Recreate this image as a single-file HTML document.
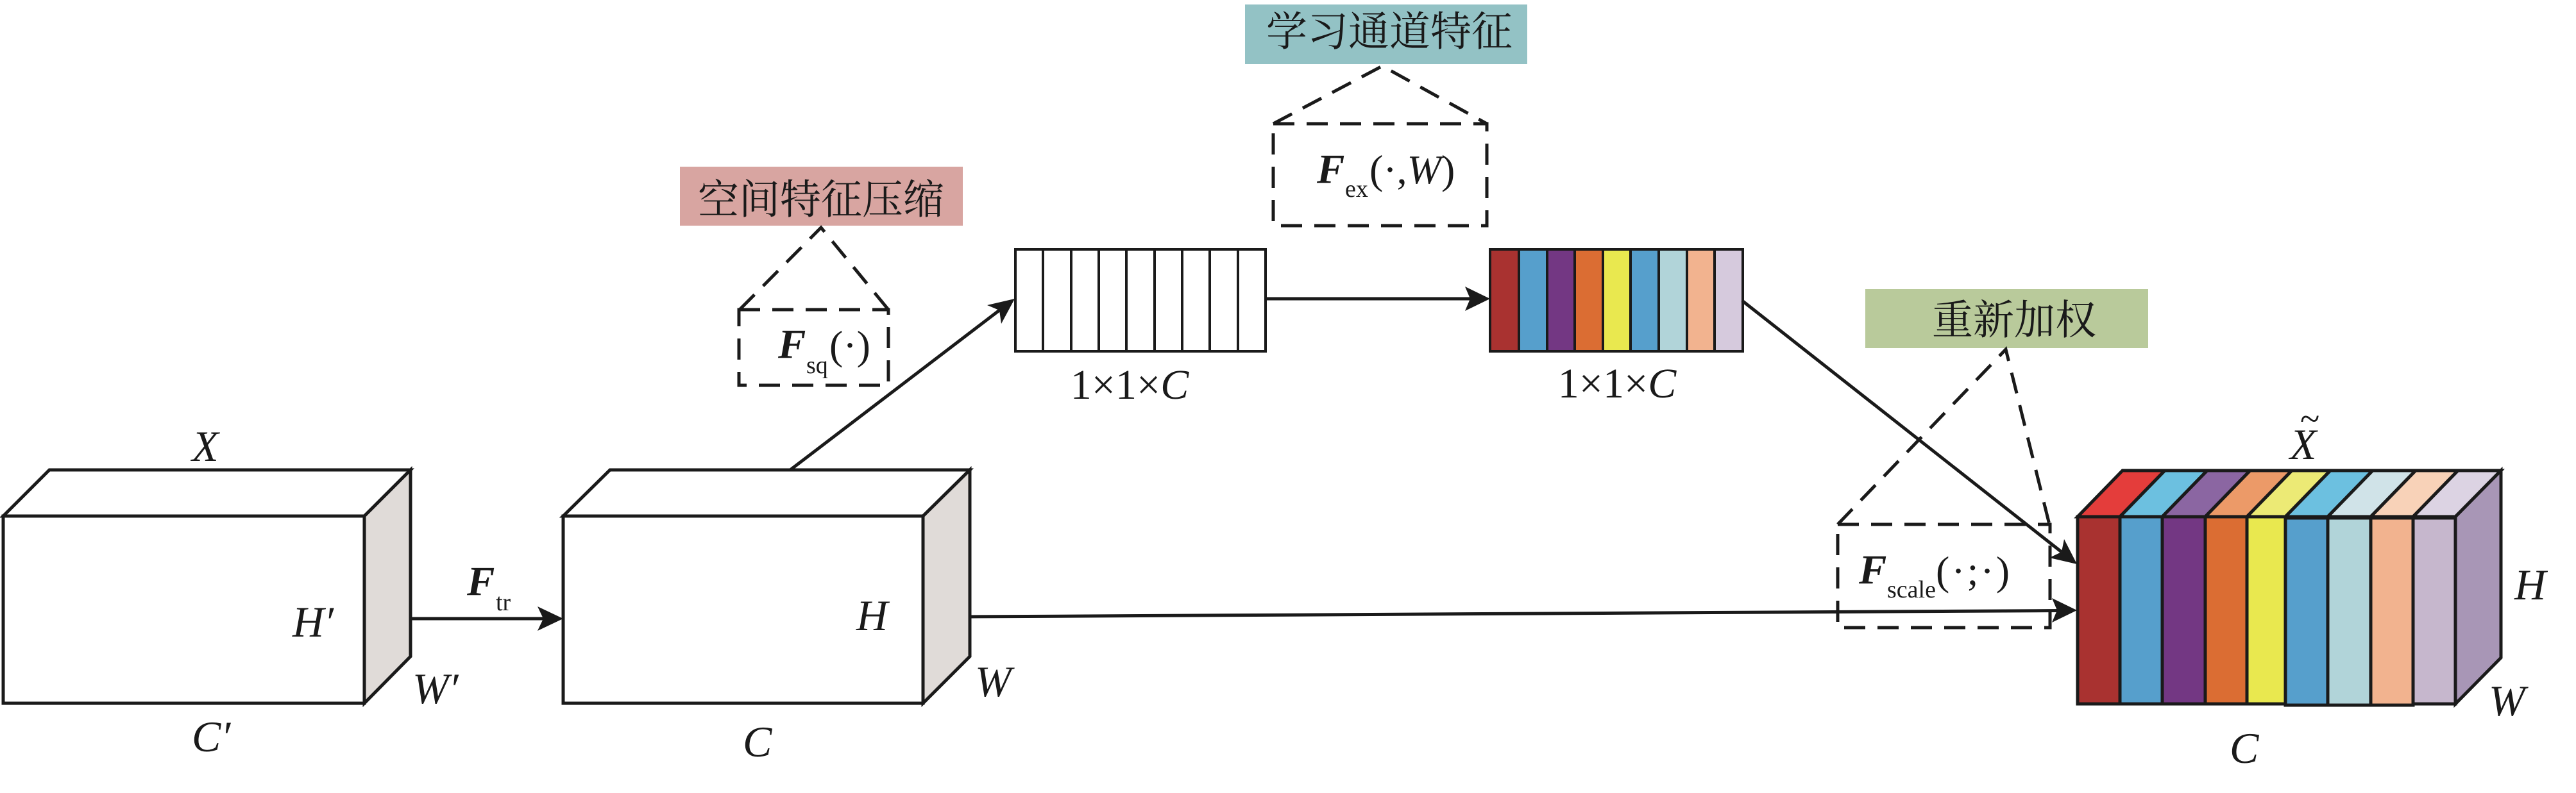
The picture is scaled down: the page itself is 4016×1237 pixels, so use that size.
<!DOCTYPE html>
<html>
<head>
<meta charset="utf-8">
<style>
html,body{margin:0;padding:0;background:#fff;}
svg{display:block;}
</style>
</head>
<body>
<svg width="4016" height="1237" viewBox="0 0 4016 1237" xmlns="http://www.w3.org/2000/svg">
<rect x="0" y="0" width="4016" height="1237" fill="#fff"/>

<!-- Box 1 -->
<g stroke="#1a1a1a" stroke-width="5" stroke-linejoin="miter">
  <polygon points="5,805 77,733 640,733 568,805" fill="#fff"/>
  <polygon points="568,805 640,733 640,1024 568,1097" fill="#e0dbd8"/>
  <rect x="5" y="805" width="563" height="292" fill="#fff"/>
</g>

<!-- Box 2 -->
<g stroke="#1a1a1a" stroke-width="5">
  <polygon points="878,805 951,733 1512,733 1439,805" fill="#fff"/>
  <polygon points="1439,805 1512,733 1512,1024 1439,1097" fill="#e0dbd8"/>
  <rect x="878" y="805" width="561" height="292" fill="#fff"/>
</g>

<!-- F_tr arrow -->
<line x1="640" y1="965" x2="848" y2="965" stroke="#1a1a1a" stroke-width="5"/>
<polygon points="878,965 838,946 847,965 838,984" fill="#1a1a1a"/>

<!-- Labels box1/box2 -->
<g font-family="'Liberation Serif', serif" font-style="italic" font-size="68" fill="#1a1a1a">
  <text x="320" y="719" text-anchor="middle">X</text>
  <text x="456" y="993">H′</text>
  <text x="643" y="1097">W′</text>
  <text x="299" y="1172">C′</text>
  <text x="1335" y="983">H</text>
  <text x="1520" y="1086">W</text>
  <text x="1158" y="1180">C</text>
</g>
<text x="728" y="928" font-family="'Liberation Serif', serif" font-style="italic" font-weight="bold" font-size="65" fill="#1a1a1a">F</text>
<text x="773" y="952" font-family="'Liberation Serif', serif" font-size="38" fill="#1a1a1a">tr</text>

<!-- Diagonal arrow box2 -> white strip -->
<line x1="1232" y1="733" x2="1558" y2="484" stroke="#1a1a1a" stroke-width="5"/>
<polygon points="1582,466 1561,505 1558,484 1539,476" fill="#1a1a1a"/>

<!-- White strip 1x1xC -->
<g stroke="#1a1a1a" stroke-width="4" fill="#fff">
  <rect x="1583" y="389" width="390" height="159"/>
  <line x1="1626" y1="389" x2="1626" y2="548"/>
  <line x1="1670" y1="389" x2="1670" y2="548"/>
  <line x1="1713" y1="389" x2="1713" y2="548"/>
  <line x1="1756" y1="389" x2="1756" y2="548"/>
  <line x1="1800" y1="389" x2="1800" y2="548"/>
  <line x1="1843" y1="389" x2="1843" y2="548"/>
  <line x1="1886" y1="389" x2="1886" y2="548"/>
  <line x1="1930" y1="389" x2="1930" y2="548"/>
</g>

<!-- Arrow white -> colored -->
<line x1="1973" y1="466" x2="2295" y2="466" stroke="#1a1a1a" stroke-width="5"/>
<polygon points="2323,466 2284,447 2292,466 2284,485" fill="#1a1a1a"/>

<!-- Colored strip -->
<g stroke="#1a1a1a" stroke-width="4">
  <rect x="2323" y="389" width="45" height="159" fill="#a93230"/>
  <rect x="2368" y="389" width="44" height="159" fill="#569fcc"/>
  <rect x="2412" y="389" width="43" height="159" fill="#733783"/>
  <rect x="2455" y="389" width="44" height="159" fill="#db6d33"/>
  <rect x="2499" y="389" width="43" height="159" fill="#e9e84f"/>
  <rect x="2542" y="389" width="44" height="159" fill="#569fcc"/>
  <rect x="2586" y="389" width="44" height="159" fill="#b1d4d9"/>
  <rect x="2630" y="389" width="43" height="159" fill="#f2b38f"/>
  <rect x="2673" y="389" width="44" height="159" fill="#d6cadd"/>
</g>

<!-- 1x1xC labels -->
<g font-family="'Liberation Serif', serif" font-size="66" fill="#1a1a1a">
  <text x="1761" y="622" text-anchor="middle">1×1×<tspan font-style="italic">C</tspan></text>
  <text x="2521" y="620" text-anchor="middle">1×1×<tspan font-style="italic">C</tspan></text>
</g>

<!-- Pink label + Fsq -->
<rect x="1060" y="260" width="441" height="92" fill="#d8a5a1"/>
<text x="1280" y="312" text-anchor="middle" dominant-baseline="central" font-family="'Liberation Serif', 'Noto Serif CJK SC', serif" font-size="64" fill="#1a1a1a">空间特征压缩</text>
<g fill="none" stroke="#1a1a1a" stroke-width="5" stroke-dasharray="33,19">
  <polyline points="1153,483 1280,355 1385,483"/>
  <rect x="1152" y="483" width="233" height="118"/>
</g>
<text x="1213" y="558" font-family="'Liberation Serif', serif" font-style="italic" font-weight="bold" font-size="65" fill="#1a1a1a">F</text>
<text x="1257" y="582" font-family="'Liberation Serif', serif" font-size="38" fill="#1a1a1a">sq</text>
<text x="1293" y="560" font-family="'Liberation Serif', serif" font-size="64" fill="#1a1a1a">(·)</text>

<!-- Teal label + Fex -->
<rect x="1941" y="7" width="440" height="93" fill="#93c2c5"/>
<text x="2166" y="50" text-anchor="middle" dominant-baseline="central" font-family="'Liberation Serif', 'Noto Serif CJK SC', serif" font-size="64" fill="#1a1a1a">学习通道特征</text>
<g fill="none" stroke="#1a1a1a" stroke-width="5" stroke-dasharray="33,19">
  <polyline points="1985,193 2155,103 2318,193"/>
  <rect x="1985" y="193" width="333" height="159"/>
</g>
<text x="2053" y="285" font-family="'Liberation Serif', serif" font-style="italic" font-weight="bold" font-size="65" fill="#1a1a1a">F</text>
<text x="2097" y="307" font-family="'Liberation Serif', serif" font-size="38" fill="#1a1a1a">ex</text>
<text x="2135" y="286" font-family="'Liberation Serif', serif" font-size="64" fill="#1a1a1a">(·,<tspan font-style="italic">W</tspan>)</text>

<!-- Green label + Fscale -->
<rect x="2908" y="451" width="441" height="92" fill="#b9ca9b"/>
<text x="3140" y="500" text-anchor="middle" dominant-baseline="central" font-family="'Liberation Serif', 'Noto Serif CJK SC', serif" font-size="64" fill="#1a1a1a">重新加权</text>
<g fill="none" stroke="#1a1a1a" stroke-width="5" stroke-dasharray="33,19">
  <polyline points="2865,818 3127,545 3195,818"/>
  <rect x="2865" y="818" width="331" height="161"/>
</g>
<text x="2898" y="910" font-family="'Liberation Serif', serif" font-style="italic" font-weight="bold" font-size="65" fill="#1a1a1a">F</text>
<text x="2942" y="932" font-family="'Liberation Serif', serif" font-size="38" fill="#1a1a1a">scale</text>
<text x="3018" y="912" font-family="'Liberation Serif', serif" font-size="64" letter-spacing="3" fill="#1a1a1a">(·;·)</text>

<!-- Long horizontal arrow box2 -> final -->
<line x1="1512" y1="962" x2="3210" y2="952.5" stroke="#1a1a1a" stroke-width="5"/>
<polygon points="3238,952 3199,933 3207,952 3199,971" fill="#1a1a1a"/>

<!-- Diagonal arrow colored -> final -->
<line x1="2716" y1="469" x2="3214" y2="861" stroke="#1a1a1a" stroke-width="5"/>
<polygon points="3238,880 3195,870 3214,861 3218,841" fill="#1a1a1a"/>

<!-- Final box -->
<g stroke="#1a1a1a" stroke-width="5" stroke-linejoin="miter">
  <!-- top stripes -->
  <polygon points="3239,806 3309,734 3375,734 3305,806" fill="#e43d3b"/>
  <polygon points="3305,806 3375,734 3441,734 3371,806" fill="#6cc0e0"/>
  <polygon points="3371,806 3441,734 3508,734 3438,806" fill="#8b66a2"/>
  <polygon points="3438,806 3508,734 3573,734 3503,806" fill="#ec9a68"/>
  <polygon points="3503,806 3573,734 3633,734 3563,806" fill="#ecea75"/>
  <polygon points="3563,806 3633,734 3699,734 3629,806" fill="#6cc0e0"/>
  <polygon points="3629,806 3699,734 3766,734 3696,806" fill="#d0e3e8"/>
  <polygon points="3696,806 3766,734 3832,734 3762,806" fill="#f8d2b8"/>
  <polygon points="3762,806 3832,734 3899,734 3828,806" fill="#dcd3e3"/>
  <!-- right face -->
  <polygon points="3828,806 3899,734 3899,1026 3828,1098" fill="#a896b6"/>
  <!-- front stripes -->
  <rect x="3239" y="806" width="66" height="292" fill="#a93230"/>
  <rect x="3305" y="806" width="66" height="292" fill="#569fcc"/>
  <rect x="3371" y="806" width="67" height="292" fill="#733783"/>
  <rect x="3438" y="806" width="65" height="292" fill="#db6d33"/>
  <rect x="3503" y="806" width="60" height="292" fill="#e9e84f"/>
  <rect x="3563" y="808" width="66" height="292" fill="#569fcc"/>
  <rect x="3629" y="808" width="67" height="292" fill="#b1d4d9"/>
  <rect x="3696" y="808" width="66" height="292" fill="#f2b38f"/>
  <rect x="3762" y="808" width="66" height="290" fill="#c6b7cd"/>
</g>

<!-- Final labels -->
<g font-family="'Liberation Serif', serif" font-style="italic" font-size="68" fill="#1a1a1a">
  <text x="3570" y="716">X</text>
  <text x="3920" y="935">H</text>
  <text x="3880" y="1116">W</text>
  <text x="3476" y="1190">C</text>
</g>
<text x="3586" y="672" font-family="'Liberation Serif', serif" font-size="56" fill="#1a1a1a">~</text>

</svg>
</body>
</html>
